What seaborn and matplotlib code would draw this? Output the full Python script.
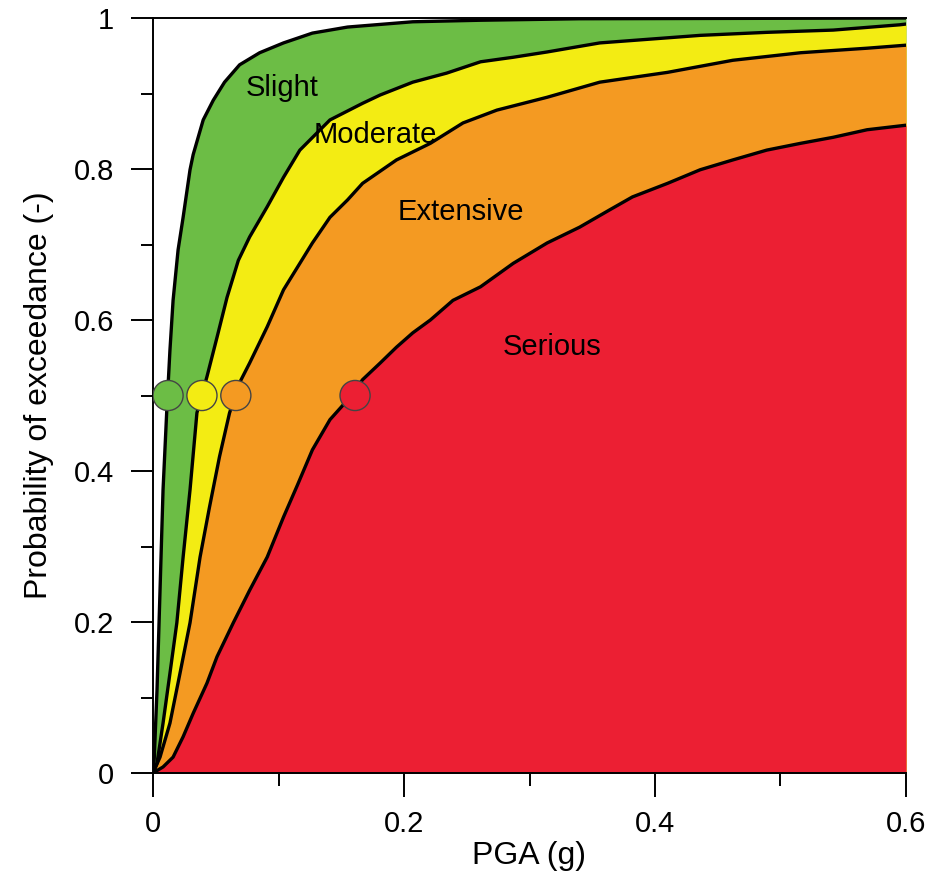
import matplotlib
matplotlib.use("Agg")
import matplotlib.pyplot as plt
import seaborn as sns
import pandas as pd

# Fragility curves: PGA (g) vs probability of exceedance for each damage state
slight_pga = [0.0, 0.001, 0.0032, 0.0056, 0.008, 0.011, 0.0135, 0.016, 0.020, 0.024,
              0.0295, 0.032, 0.040, 0.048, 0.057, 0.069, 0.085, 0.104, 0.127, 0.155,
              0.207, 0.26, 0.34, 0.6]
slight_prob = [0.0, 0.02, 0.110, 0.242, 0.375, 0.481, 0.560, 0.626, 0.693, 0.736,
               0.799, 0.819, 0.865, 0.891, 0.915, 0.938, 0.954, 0.967, 0.980, 0.988,
               0.995, 0.997, 0.999, 1.0]

moderate_pga = [0.0, 0.0032, 0.008, 0.0135, 0.019, 0.024, 0.0295, 0.035, 0.043, 0.051,
                0.059, 0.068, 0.077, 0.091, 0.104, 0.117, 0.141, 0.167, 0.181, 0.207,
                0.234, 0.261, 0.287, 0.314, 0.356, 0.436, 0.489, 0.542, 0.595, 0.6]
moderate_prob = [0.0, 0.013, 0.066, 0.132, 0.199, 0.286, 0.375, 0.477, 0.525, 0.577,
                 0.630, 0.679, 0.710, 0.750, 0.789, 0.825, 0.865, 0.887, 0.898, 0.915,
                 0.927, 0.942, 0.948, 0.955, 0.967, 0.977, 0.981, 0.984, 0.991, 0.992]

extensive_pga = [0.0, 0.0056, 0.0135, 0.0215, 0.0295, 0.0375, 0.045, 0.053, 0.061, 0.069,
                 0.077, 0.091, 0.104, 0.117, 0.127, 0.141, 0.155, 0.167, 0.194, 0.221,
                 0.247, 0.274, 0.314, 0.356, 0.410, 0.462, 0.516, 0.569, 0.6]
extensive_prob = [0.0, 0.021, 0.066, 0.132, 0.199, 0.286, 0.352, 0.419, 0.477, 0.517,
                  0.543, 0.591, 0.640, 0.675, 0.702, 0.736, 0.759, 0.781, 0.812, 0.834,
                  0.861, 0.878, 0.895, 0.915, 0.928, 0.944, 0.954, 0.960, 0.964]

serious_pga = [0.0, 0.008, 0.016, 0.024, 0.032, 0.043, 0.051, 0.064, 0.077, 0.091,
               0.104, 0.115, 0.127, 0.141, 0.155, 0.167, 0.181, 0.194, 0.207, 0.221,
               0.239, 0.261, 0.287, 0.314, 0.340, 0.364, 0.382, 0.410, 0.436, 0.462,
               0.489, 0.516, 0.542, 0.569, 0.6]
serious_prob = [0.0, 0.008, 0.021, 0.048, 0.079, 0.119, 0.154, 0.199, 0.242, 0.286,
                0.339, 0.381, 0.428, 0.468, 0.494, 0.521, 0.543, 0.564, 0.583, 0.600,
                0.626, 0.644, 0.675, 0.702, 0.723, 0.746, 0.763, 0.781, 0.799, 0.812,
                0.825, 0.834, 0.842, 0.852, 0.858]

# Median PGA of each damage state (probability 0.5)
states = ["Slight", "Moderate", "Extensive", "Serious"]
median_pga = [0.012, 0.039, 0.066, 0.161]
median_prob = [0.5, 0.5, 0.5, 0.5]

colors = {"Slight": "#6cbd45", "Moderate": "#f3ec13",
          "Extensive": "#f49a22", "Serious": "#ec1f33"}

curves = {
    "Slight": (slight_pga, slight_prob),
    "Moderate": (moderate_pga, moderate_prob),
    "Extensive": (extensive_pga, extensive_prob),
    "Serious": (serious_pga, serious_prob),
}

sns.set_style("ticks")
plt.rcParams["font.family"] = ["Liberation Sans", "DejaVu Sans"]
plt.rcParams["text.color"] = "black"
plt.rcParams["axes.labelcolor"] = "black"
plt.rcParams["xtick.color"] = "black"
plt.rcParams["ytick.color"] = "black"

fig = plt.figure(figsize=(9.37, 8.9), dpi=100)
ax = fig.add_axes([153 / 937, 1 - 773 / 890, (906 - 153) / 937, (773 - 18) / 890])

# Coloured bands: each state's area under its curve, painted from lightest to most severe
for name in states:
    px, py = curves[name]
    ax.fill_between(px, py, 0, color=colors[name], linewidth=0, zorder=1)

# Curve outlines
for name in states:
    px, py = curves[name]
    df = pd.DataFrame({"PGA": px, "P": py})
    sns.lineplot(data=df, x="PGA", y="P", ax=ax, color="black", linewidth=2.4,
                 sort=False, estimator=None, zorder=3)

# Median markers
mdf = pd.DataFrame({"PGA": median_pga, "P": median_prob, "state": states})
sns.scatterplot(data=mdf, x="PGA", y="P", hue="state", palette=colors, s=470,
                edgecolor="#444444", linewidth=1.0, legend=False, ax=ax, zorder=4)

# Damage-state labels
label_pos = {"Slight": (0.103, 0.907), "Moderate": (0.177, 0.845),
             "Extensive": (0.245, 0.743), "Serious": (0.318, 0.564)}
for name, (lx, ly) in label_pos.items():
    ax.text(lx, ly, name, ha="center", va="center", fontsize=21, color="black", zorder=5)

ax.set_xlim(0, 0.6)
ax.set_ylim(0, 1)
ax.set_xticks([0, 0.2, 0.4, 0.6])
ax.set_xticklabels(["0", "0.2", "0.4", "0.6"])
ax.set_xticks([0.1, 0.3, 0.5], minor=True)
ax.set_yticks([0, 0.2, 0.4, 0.6, 0.8, 1.0])
ax.set_yticklabels(["0", "0.2", "0.4", "0.6", "0.8", "1"])
ax.set_yticks([0.1, 0.3, 0.5, 0.7, 0.9], minor=True)

ax.tick_params(axis="x", which="major", length=17, width=1.4, labelsize=21, pad=10,
               direction="out", colors="black")
ax.tick_params(axis="x", which="minor", length=9, width=1.4, direction="out", colors="black")
ax.tick_params(axis="y", which="major", length=16, width=1.4, labelsize=21, pad=12,
               direction="out", colors="black")
ax.tick_params(axis="y", which="minor", length=9, width=1.4, direction="out", colors="black")

ax.set_xlabel("PGA (g)", fontsize=23, labelpad=2, color="black")
ax.set_ylabel("Probability of exceedance (-)", fontsize=23, labelpad=14, color="black")

for side in ["left", "top", "bottom"]:
    ax.spines[side].set_linewidth(1.4)
    ax.spines[side].set_color("black")
ax.spines["right"].set_visible(False)
ax.set_facecolor("white")

fig.savefig("out.png", dpi=100)
